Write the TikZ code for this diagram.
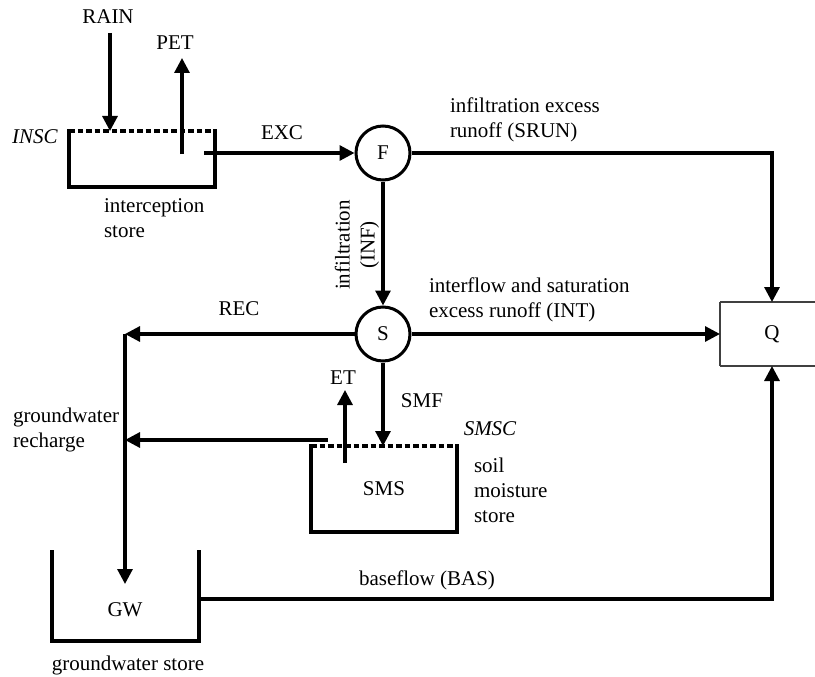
\documentclass[tikz,border=0pt]{standalone}
\usepackage{fontspec}
\setmainfont{Liberation Serif}
\usetikzlibrary{arrows.meta,calc}
\begin{document}
\begin{tikzpicture}[x=1pt,y=-1pt,
  every node/.style={font=\fontsize{21}{25}\selectfont, inner sep=0pt, outer sep=0pt},
  flow/.style={line width=3.2pt, -{Triangle[length=15pt,width=15pt]}},
  wall/.style={line width=3.2pt, line cap=rect},
  topline/.style={line width=3.2pt, dash pattern=on 5.5pt off 3pt},
  qline/.style={line width=1.5pt, draw=black!75},
  pool/.style={circle, draw, line width=3pt, minimum size=54pt, outer sep=1.5pt},
  lab/.style={align=left, anchor=west}
]
\useasboundingbox (0,0) rectangle (815,677);

% pools and stores
\node[pool] (F) at (383,153) {F};
\node[pool] (S) at (383,334) {S};
\node[minimum width=104pt, minimum height=64pt] (Q) at (772,334) {Q};
\draw[qline] (Q.north west) -- (Q.south west);
\draw[qline] (Q.north west) -- ++(95,0);
\draw[qline] (Q.south west) -- ++(95,0);

\node[minimum width=146pt, minimum height=56pt] (INS) at (142,159) {};
\draw[wall] (INS.north west) -- (INS.south west) -- (INS.south east) -- (INS.north east);
\draw[topline] (INS.north west) -- (INS.north east);

\node[minimum width=146pt, minimum height=86pt] (SMS) at (384,489) {SMS};
\draw[wall] (SMS.north west) -- (SMS.south west) -- (SMS.south east) -- (SMS.north east);
\draw[topline] (SMS.north west) -- (SMS.north east);

\node[minimum width=147pt, minimum height=89pt] (GWB) at (125.5,596.5) {};
\draw[wall] (GWB.north west) -- (GWB.south west) -- (GWB.south east) -- (GWB.north east);
\node (GW) at (125,610) {GW};

% connectors
\coordinate (rainS) at (110,33);
\draw[flow] (rainS) -- (rainS |- INS.north);
\coordinate (petB) at (182,154);
\coordinate (petT) at (182,58);
\draw[flow] (petB) -- (petT);
\coordinate (excS) at (204,153);
\draw[flow] (excS) -- (F.west);
\draw[flow] (F.east) -| (Q.north);
\draw[flow] (F.south) -- (S.north);
\draw[flow] (S.east) -- (Q.west);
\coordinate (recC) at (125,334);
\draw[flow] (S.west) -- (recC);
\coordinate (gwT) at (125,584);
\draw[flow] (recC) -- (gwT);
\coordinate (rchS) at (328,440);
\draw[flow] (rchS) -- (rchS -| recC);
\coordinate (etB) at (345,463);
\coordinate (etT) at (345,390);
\draw[flow] (etB) -- (etT);
\draw[flow] (S.south) -- (S.south |- SMS.north);
\coordinate (basS) at (199,599);
\draw[flow] (basS) -| (Q.south);

% labels
\node (RAIN) at (108,17) {RAIN};
\node (PET) at (175,43) {PET};
\node (INSC) at (35,137) {\itshape INSC};
\node[lab] (intcl) at (104,218) {interception\\store};
\node (EXC) at (282,133) {EXC};
\node[lab] (srunl) at (450,120) {infiltration excess\\runoff (SRUN)};
\node[rotate=90, align=center] (infl) at (357,245) {infiltration\\(INF)};
\node[lab] (intl) at (429,300) {interflow and saturation\\excess runoff (INT)};
\node (REC) at (239,309) {REC};
\node[lab] (rchl) at (13,430) {groundwater\\recharge};
\node (ET) at (343,378) {ET};
\node (SMF) at (422,401) {SMF};
\node (SMSC) at (490,429) {\itshape SMSC};
\node[lab] (smsl) at (474,490) {soil\\moisture\\store};
\node (BAS) at (427,580) {baseflow (BAS)};
\node (gwl) at (128,665) {groundwater store};
\end{tikzpicture}
\end{document}
